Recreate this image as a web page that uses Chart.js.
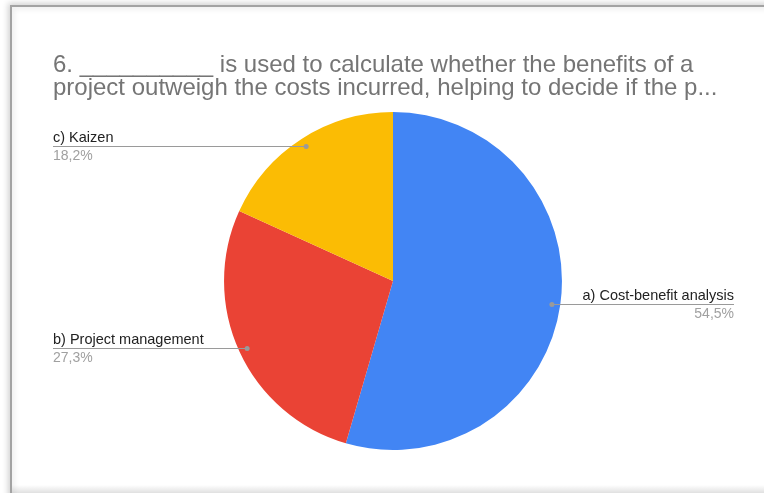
<!DOCTYPE html>
<html>
<head>
<meta charset="utf-8">
<script src="https://cdn.jsdelivr.net/npm/chart.js@4/dist/chart.umd.min.js"></script>
<style>
  html, body { margin: 0; padding: 0; background: #fff; overflow: hidden; }
  body { width: 764px; height: 493px; position: relative; }
  #card {
    position: absolute; left: 10px; top: 5px; width: 780px; height: 500px;
    border-left: 2px solid #a3a3a3; border-top: 2px solid #a3a3a3;
    box-shadow: -2px -2px 6px rgba(0,0,0,0.18), inset 3px 3px 5px rgba(0,0,0,0.06);
    background: #fff;
  }
  #foot {
    position: absolute; left: 12px; right: 0; bottom: 0; height: 8px;
    background: linear-gradient(to bottom, rgba(0,0,0,0), rgba(0,0,0,0.12));
  }
  #wrap { position: absolute; left: 0; top: 0; width: 764px; height: 493px; }
</style>
</head>
<body>
<div id="card"></div>
<div id="foot"></div>
<div id="wrap"><canvas id="pie"></canvas></div>
<script>
const titleLines = [
  '6. __________ is used to calculate whether the benefits of a',
  'project outweigh the costs incurred, helping to decide if the p...'
];
const categories = ['a) Cost-benefit analysis', 'b) Project management', 'c) Kaizen'];
const shares     = [54.5, 27.3, 18.2];
const colors     = ['#4285f4', '#ea4335', '#fbbc04'];

const fmtPct = v => v.toFixed(1).replace('.', ',') + '%';

// leader lines from each slice to its label at the chart's side edge
const sliceLabels = {
  id: 'sliceLabels',
  afterDatasetsDraw(chart) {
    const ctx  = chart.ctx;
    const area = chart.chartArea;
    const arcs = chart.getDatasetMeta(0).data;

    ctx.save();
    arcs.forEach((arc, i) => {
      const p   = arc.getProps(['x', 'y', 'startAngle', 'endAngle', 'outerRadius'], true);
      const mid = (p.startAngle + p.endAngle) / 2;
      const dx  = p.x + Math.cos(mid) * p.outerRadius * 0.95;
      const dy  = Math.round(p.y + Math.sin(mid) * p.outerRadius * 0.95) + 0.5;
      const left = Math.cos(mid) < 0;
      const x0   = left ? area.left : area.right + 1;

      ctx.strokeStyle = '#9a9a9a';
      ctx.lineWidth = 1;
      ctx.beginPath();
      ctx.moveTo(x0, dy);
      ctx.lineTo(dx, dy);
      ctx.stroke();

      ctx.fillStyle = '#9a9a9a';
      ctx.beginPath();
      ctx.arc(dx, dy, 2.5, 0, Math.PI * 2);
      ctx.fill();

      ctx.textAlign = left ? 'left' : 'right';
      ctx.textBaseline = 'alphabetic';
      ctx.font = '14.5px "Liberation Sans", Arial, sans-serif';
      ctx.fillStyle = '#222';
      ctx.fillText(categories[i], x0, dy - 4.5);
      ctx.font = '14px "Liberation Sans", Arial, sans-serif';
      ctx.fillStyle = '#a0a0a0';
      ctx.fillText(fmtPct(shares[i]), x0, dy + 13.5);
    });
    ctx.restore();
  }
};

new Chart(document.querySelector('#pie'), {
  type: 'pie',
  data: {
    labels: categories,
    datasets: [{
      data: shares,
      backgroundColor: colors,
      borderWidth: 0
    }]
  },
  options: {
    responsive: true,
    maintainAspectRatio: false,
    animation: false,
    layout: { padding: { top: 0, bottom: 43, left: 53, right: 31 } },
    plugins: {
      legend: { display: false },
      tooltip: { enabled: false },
      title: {
        display: true,
        text: titleLines,
        align: 'start',
        color: '#757575',
        font: { family: '"Liberation Sans", Arial, sans-serif', size: 24, weight: 'normal', lineHeight: 0.96 },
        padding: { top: 54, bottom: 12 }
      }
    }
  },
  plugins: [sliceLabels]
});
</script>
</body>
</html>
